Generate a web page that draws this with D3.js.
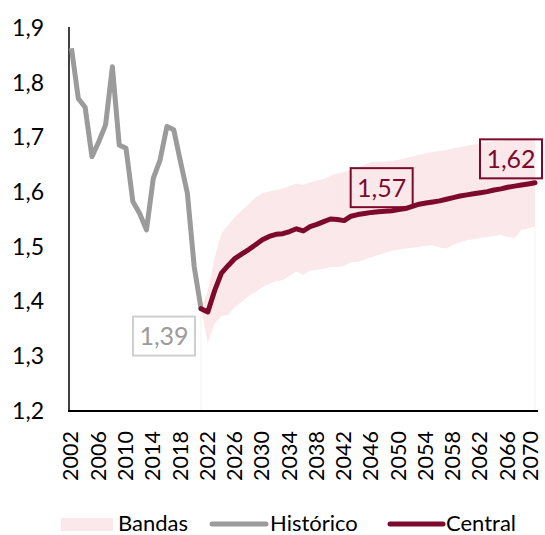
<!DOCTYPE html>
<html>
<head>
<meta charset="utf-8">
<script src="https://cdn.jsdelivr.net/npm/d3@7"></script>
<style>
  body { margin: 0; background: #fff; }
  svg { display: block; font-family: Lato, "Open Sans", sans-serif; }
</style>
</head>
<body>
<svg id="chart" width="545" height="535"></svg>
<script>
// 年份
const years = d3.range(2002, 2071);
// 历史数据 2002-2021
const histYears = d3.range(2002, 2022);
const histValues = [1.863, 1.771, 1.755, 1.665, 1.692, 1.723, 1.829, 1.686, 1.680, 1.583,
  1.561, 1.531, 1.625, 1.659, 1.720, 1.714, 1.655, 1.598, 1.464, 1.387];
// 预测 2021-2070
const projYears = d3.range(2021, 2071);
const centralValues = [1.387, 1.381, 1.420, 1.452, 1.466, 1.479, 1.487, 1.495, 1.504, 1.513,
  1.519, 1.523, 1.524, 1.528, 1.533, 1.529, 1.537, 1.541, 1.546, 1.551,
  1.550, 1.548, 1.556, 1.559, 1.561, 1.563, 1.564, 1.565, 1.566, 1.568,
  1.570, 1.574, 1.578, 1.580, 1.582, 1.584, 1.587, 1.590, 1.593, 1.595,
  1.597, 1.599, 1.601, 1.604, 1.606, 1.609, 1.611, 1.613, 1.615, 1.617];
const upperValues = [1.387, 1.420, 1.480, 1.525, 1.540, 1.555, 1.567, 1.578, 1.590, 1.598,
  1.601, 1.604, 1.606, 1.611, 1.616, 1.613, 1.618, 1.621, 1.624, 1.630,
  1.634, 1.637, 1.640, 1.645, 1.650, 1.655, 1.656, 1.656, 1.657, 1.659,
  1.662, 1.665, 1.668, 1.671, 1.674, 1.675, 1.677, 1.680, 1.682, 1.685,
  1.687, 1.689, 1.691, 1.693, 1.694, 1.695, 1.696, 1.697, 1.698, 1.699];
const lowerValues = [1.387, 1.324, 1.360, 1.373, 1.376, 1.390, 1.400, 1.410, 1.418, 1.426,
  1.432, 1.437, 1.439, 1.447, 1.455, 1.449, 1.457, 1.458, 1.460, 1.463,
  1.463, 1.465, 1.472, 1.473, 1.477, 1.481, 1.485, 1.489, 1.493, 1.495,
  1.497, 1.499, 1.500, 1.502, 1.503, 1.499, 1.497, 1.504, 1.508, 1.512,
  1.514, 1.516, 1.518, 1.520, 1.522, 1.518, 1.516, 1.531, 1.534, 1.537];
// 坐标轴刻度
const yTicks = [1.2, 1.3, 1.4, 1.5, 1.6, 1.7, 1.8, 1.9];
const xTicks = d3.range(2002, 2071, 4);
// 标注
const notes = [
  { year: 2021, value: 1.39, text: '1,39', dx: -37, dy: 29, color: '#9b9b9b', stroke: '#cfcfcf' },
  { year: 2050, value: 1.568, text: '1,57', dx: -17, dy: -22, color: '#7d0a2c', stroke: '#7d0a2c' },
  { year: 2070, value: 1.617, text: '1,62', dx: -24, dy: -24, color: '#7d0a2c', stroke: '#7d0a2c' }
];

const burgundy = '#7d0a2c';
const grey = '#9b9b9b';
const pink = '#fae8eb';

const svg = d3.select('#chart');

// 比例尺
const x = d3.scalePoint().domain(years).range([71.5, 535]);
const y = d3.scaleLinear().domain([1.2, 1.9]).range([411, 28]);

// 区间带
const bandData = projYears.map((yr, i) => ({ yr, lo: lowerValues[i], hi: upperValues[i] }));
svg.append('path')
  .datum(bandData)
  .attr('fill', pink)
  .attr('d', d3.area().x(d => x(d.yr)).y0(d => y(d.lo)).y1(d => y(d.hi)));

// 区间带边缘淡线
[2021, 2070].forEach((yr, k) => {
  svg.append('line')
    .attr('x1', x(yr)).attr('x2', x(yr))
    .attr('y1', y(k ? lowerValues[lowerValues.length - 1] : lowerValues[0])).attr('y2', 410)
    .attr('stroke', '#f7f1f2').attr('stroke-width', 1);
});

// 坐标轴线
svg.append('line').attr('x1', 69).attr('x2', 69).attr('y1', 27).attr('y2', 411)
  .attr('stroke', '#000').attr('stroke-width', 1.5);
svg.append('line').attr('x1', 68).attr('x2', 538).attr('y1', 411).attr('y2', 411)
  .attr('stroke', '#000').attr('stroke-width', 2);

// Y 轴
const yAxis = svg.append('g')
  .attr('transform', 'translate(44,0)')
  .call(d3.axisLeft(y).tickValues(yTicks).tickSize(0).tickPadding(0)
    .tickFormat(d => d3.format('.1f')(d).replace('.', ',')));
yAxis.select('.domain').remove();
yAxis.selectAll('text').attr('font-size', 23).attr('fill', '#000')
  .attr('font-family', 'Lato, sans-serif');

// X 轴
const xAxis = svg.append('g')
  .attr('transform', 'translate(0,411)')
  .call(d3.axisBottom(x).tickValues(xTicks).tickSize(0));
xAxis.select('.domain').remove();
xAxis.selectAll('text')
  .attr('font-size', 21.5).attr('fill', '#000').attr('font-family', 'Lato, sans-serif')
  .attr('text-anchor', 'end')
  .attr('transform', 'rotate(-90)')
  .attr('x', -20).attr('y', 0)
  .attr('dy', d => d === 2070 ? '0.1em' : '0.3em');

// 历史线
svg.append('path')
  .datum(histYears.map((yr, i) => [yr, histValues[i]]))
  .attr('fill', 'none').attr('stroke', grey).attr('stroke-width', 5)
  .attr('stroke-linejoin', 'round')
  .attr('d', d3.line().x(d => x(d[0])).y(d => y(d[1])));

// 中央线
svg.append('path')
  .datum(projYears.map((yr, i) => [yr, centralValues[i]]))
  .attr('fill', 'none').attr('stroke', burgundy).attr('stroke-width', 5)
  .attr('stroke-linejoin', 'round').attr('stroke-linecap', 'round')
  .attr('d', d3.line().x(d => x(d[0])).y(d => y(d[1])));

// 数值标注
notes.forEach(n => {
  const cx = x(n.year) + n.dx, cy = y(n.value) + n.dy;
  const g = svg.append('g').attr('transform', `translate(${cx},${cy})`);
  g.append('rect').attr('x', -31).attr('y', -19.5).attr('width', 62).attr('height', 39)
    .attr('fill', 'none').attr('stroke', n.stroke).attr('stroke-width', 2);
  g.append('text').text(n.text).attr('text-anchor', 'middle').attr('dy', '0.36em')
    .attr('font-size', 25).attr('fill', n.color);
});

// 图例
const legend = svg.append('g').attr('font-size', 22).attr('fill', '#000');
legend.append('rect').attr('x', 61).attr('y', 518).attr('width', 52).attr('height', 13).attr('fill', pink);
legend.append('text').attr('x', 118).attr('y', 531).text('Bandas');
legend.append('line').attr('x1', 212).attr('x2', 266).attr('y1', 524).attr('y2', 524)
  .attr('stroke', grey).attr('stroke-width', 5).attr('stroke-linecap', 'round');
legend.append('text').attr('x', 270).attr('y', 531).text('Histórico');
legend.append('line').attr('x1', 390).attr('x2', 443).attr('y1', 524).attr('y2', 524)
  .attr('stroke', burgundy).attr('stroke-width', 5).attr('stroke-linecap', 'round');
legend.append('text').attr('x', 446).attr('y', 531).text('Central');
</script>
</body>
</html>
